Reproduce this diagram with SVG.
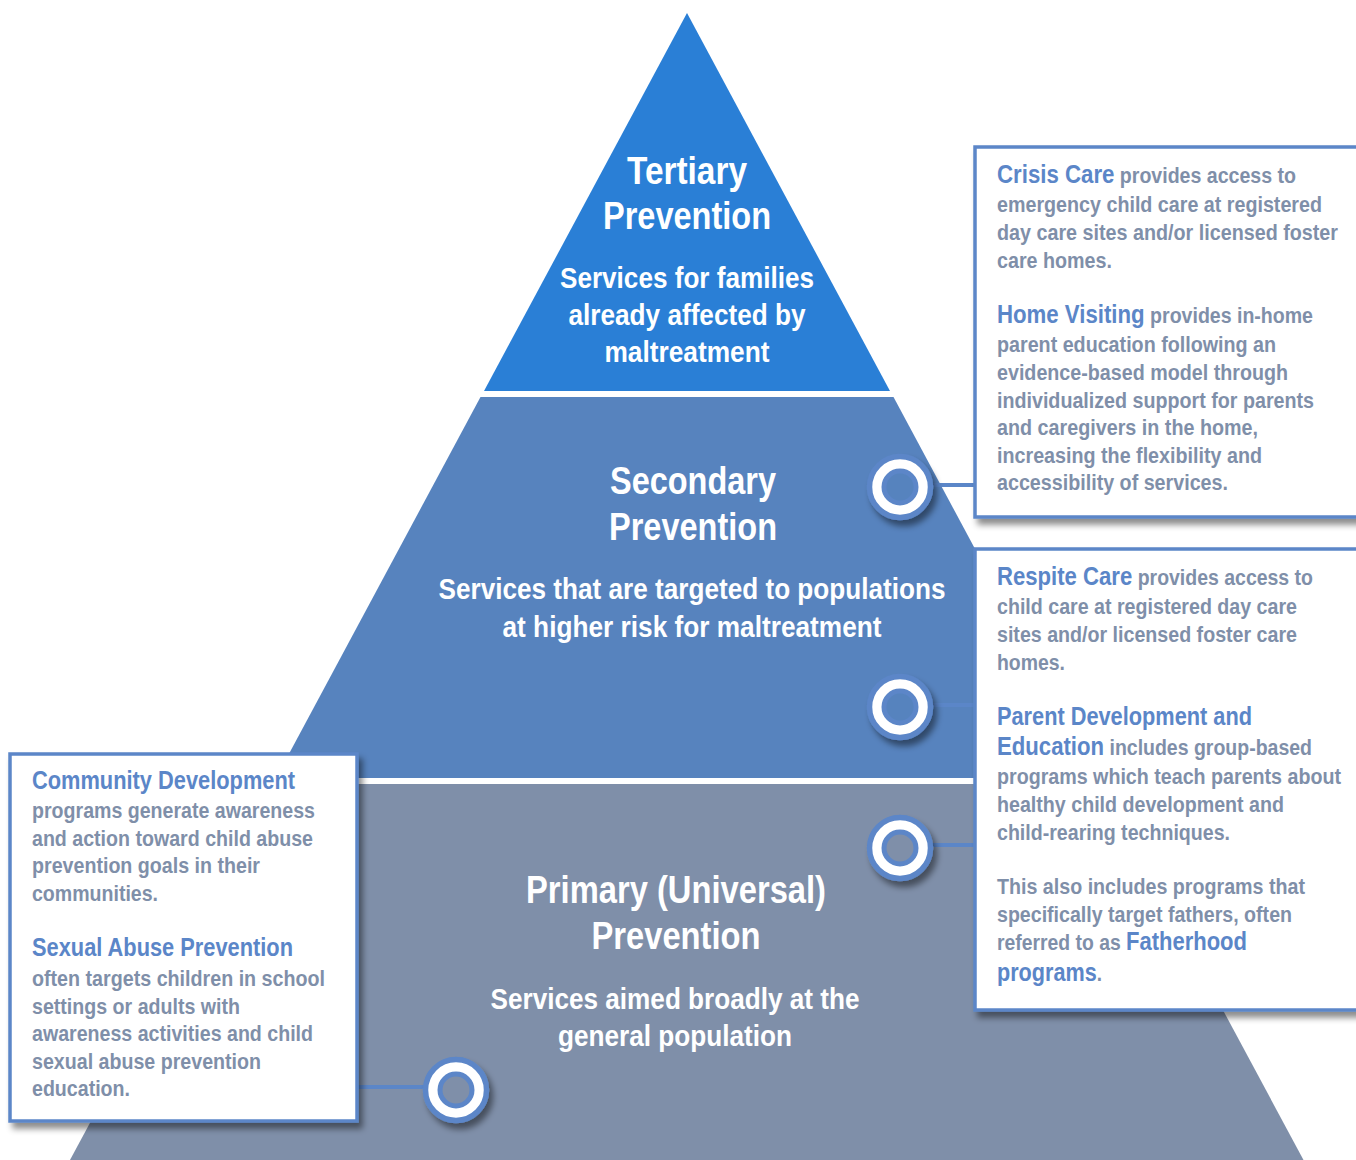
<svg xmlns="http://www.w3.org/2000/svg" width="1356" height="1160" viewBox="0 0 1356 1160">
<defs>
<filter id="sh" x="-20%" y="-20%" width="150%" height="150%">
<feDropShadow dx="4" dy="6" stdDeviation="3" flood-color="#000" flood-opacity="0.45"/>
</filter>
<filter id="csh" x="-40%" y="-40%" width="190%" height="190%">
<feDropShadow dx="4" dy="6" stdDeviation="3" flood-color="#000" flood-opacity="0.45"/>
</filter>
<style>
.t{font-family:"Liberation Sans Narrow","Liberation Sans",Arial,sans-serif;font-weight:bold;fill:#fff;text-anchor:middle}
.h1{font-size:38px}
.h2{font-size:29px}
.b{font-family:"Liberation Sans Narrow","Liberation Sans",Arial,sans-serif;font-weight:bold;fill:#7f8fa9;font-size:22px}
.k{fill:#5b86c8;font-size:25px}
.box{fill:#fff;stroke:#5b86c8;stroke-width:3.5}
.ring{fill:#fff;stroke:#5b86c8;stroke-width:5.5}
.con{stroke:#5b86c8;stroke-width:4;fill:none}
</style>
</defs>

<g id="tier-tertiary">
<polygon points="687,13 484,391 890,391" fill="#2a7fd6"/>
<text class="t h1" x="687" y="184" textLength="120" lengthAdjust="spacingAndGlyphs">Tertiary</text>
<text class="t h1" x="687" y="229" textLength="168" lengthAdjust="spacingAndGlyphs">Prevention</text>
<text class="t h2" x="687" y="288" textLength="254" lengthAdjust="spacingAndGlyphs">Services for families</text>
<text class="t h2" x="687" y="325" textLength="237" lengthAdjust="spacingAndGlyphs">already affected by</text>
<text class="t h2" x="687" y="362" textLength="165" lengthAdjust="spacingAndGlyphs">maltreatment</text>
</g>

<g id="tier-secondary">
<polygon points="480.5,397 893.5,397 1098,778 276,778" fill="#5783be"/>
<text class="t h1" x="693" y="494" textLength="166" lengthAdjust="spacingAndGlyphs">Secondary</text>
<text class="t h1" x="693" y="540" textLength="168" lengthAdjust="spacingAndGlyphs">Prevention</text>
<text class="t h2" x="692" y="599" textLength="507" lengthAdjust="spacingAndGlyphs">Services that are targeted to populations</text>
<text class="t h2" x="692" y="637" textLength="379" lengthAdjust="spacingAndGlyphs">at higher risk for maltreatment</text>
</g>

<g id="tier-primary">
<polygon points="272.5,784 1101.5,784 1303.5,1160 70,1160" fill="#7f8fa9"/>
<text class="t h1" x="676" y="903" textLength="300" lengthAdjust="spacingAndGlyphs">Primary (Universal)</text>
<text class="t h1" x="676" y="949" textLength="169" lengthAdjust="spacingAndGlyphs">Prevention</text>
<text class="t h2" x="675" y="1009" textLength="369" lengthAdjust="spacingAndGlyphs">Services aimed broadly at the</text>
<text class="t h2" x="675" y="1046" textLength="234" lengthAdjust="spacingAndGlyphs">general population</text>
</g>

<g id="connectors">
<line class="con" x1="925" y1="485" x2="977" y2="485"/>
<line class="con" x1="925" y1="705" x2="977" y2="705"/>
<line class="con" x1="925" y1="845" x2="977" y2="845"/>
<line class="con" x1="355" y1="1087" x2="430" y2="1087"/>
</g>

<g id="box-crisis-home">
<rect class="box" x="975" y="147" width="420" height="370" filter="url(#sh)"/>
<text class="b" x="997" y="183" textLength="299" lengthAdjust="spacingAndGlyphs"><tspan class="k">Crisis Care</tspan> provides access to</text>
<text class="b" x="997" y="212" textLength="325" lengthAdjust="spacingAndGlyphs">emergency child care at registered</text>
<text class="b" x="997" y="240" textLength="341" lengthAdjust="spacingAndGlyphs">day care sites and/or licensed foster</text>
<text class="b" x="997" y="268" textLength="115" lengthAdjust="spacingAndGlyphs">care homes.</text>
<text class="b" x="997" y="323" textLength="316" lengthAdjust="spacingAndGlyphs"><tspan class="k">Home Visiting</tspan> provides in-home</text>
<text class="b" x="997" y="352" textLength="279" lengthAdjust="spacingAndGlyphs">parent education following an</text>
<text class="b" x="997" y="380" textLength="291" lengthAdjust="spacingAndGlyphs">evidence-based model through</text>
<text class="b" x="997" y="408" textLength="317" lengthAdjust="spacingAndGlyphs">individualized support for parents</text>
<text class="b" x="997" y="435" textLength="261" lengthAdjust="spacingAndGlyphs">and caregivers in the home,</text>
<text class="b" x="997" y="463" textLength="265" lengthAdjust="spacingAndGlyphs">increasing the flexibility and</text>
<text class="b" x="997" y="490" textLength="231" lengthAdjust="spacingAndGlyphs">accessibility of services.</text>
</g>

<g id="box-respite-parent">
<rect class="box" x="975" y="549" width="420" height="461" filter="url(#sh)"/>
<text class="b" x="997" y="585" textLength="316" lengthAdjust="spacingAndGlyphs"><tspan class="k">Respite Care</tspan> provides access to</text>
<text class="b" x="997" y="614" textLength="300" lengthAdjust="spacingAndGlyphs">child care at registered day care</text>
<text class="b" x="997" y="642" textLength="300" lengthAdjust="spacingAndGlyphs">sites and/or licensed foster care</text>
<text class="b" x="997" y="670" textLength="68" lengthAdjust="spacingAndGlyphs">homes.</text>
<text class="b k" x="997" y="725" textLength="255" lengthAdjust="spacingAndGlyphs">Parent Development and</text>
<text class="b" x="997" y="755" textLength="315" lengthAdjust="spacingAndGlyphs"><tspan class="k">Education</tspan> includes group-based</text>
<text class="b" x="997" y="784" textLength="344" lengthAdjust="spacingAndGlyphs">programs which teach parents about</text>
<text class="b" x="997" y="812" textLength="287" lengthAdjust="spacingAndGlyphs">healthy child development and</text>
<text class="b" x="997" y="840" textLength="233" lengthAdjust="spacingAndGlyphs">child-rearing techniques.</text>
<text class="b" x="997" y="894" textLength="308" lengthAdjust="spacingAndGlyphs">This also includes programs that</text>
<text class="b" x="997" y="922" textLength="295" lengthAdjust="spacingAndGlyphs">specifically target fathers, often</text>
<text class="b" x="997" y="950" textLength="250" lengthAdjust="spacingAndGlyphs">referred to as <tspan class="k">Fatherhood</tspan></text>
<text class="b" x="997" y="981" textLength="105" lengthAdjust="spacingAndGlyphs"><tspan class="k">programs</tspan>.</text>
</g>

<g id="box-community-sexual">
<rect class="box" x="10" y="754" width="347" height="367" filter="url(#sh)"/>
<text class="b k" x="32" y="789" textLength="263" lengthAdjust="spacingAndGlyphs">Community Development</text>
<text class="b" x="32" y="818" textLength="283" lengthAdjust="spacingAndGlyphs">programs generate awareness</text>
<text class="b" x="32" y="846" textLength="281" lengthAdjust="spacingAndGlyphs">and action toward child abuse</text>
<text class="b" x="32" y="873" textLength="228" lengthAdjust="spacingAndGlyphs">prevention goals in their</text>
<text class="b" x="32" y="901" textLength="126" lengthAdjust="spacingAndGlyphs">communities.</text>
<text class="b k" x="32" y="956" textLength="261" lengthAdjust="spacingAndGlyphs">Sexual Abuse Prevention</text>
<text class="b" x="32" y="986" textLength="293" lengthAdjust="spacingAndGlyphs">often targets children in school</text>
<text class="b" x="32" y="1014" textLength="208" lengthAdjust="spacingAndGlyphs">settings or adults with</text>
<text class="b" x="32" y="1041" textLength="281" lengthAdjust="spacingAndGlyphs">awareness activities and child</text>
<text class="b" x="32" y="1069" textLength="229" lengthAdjust="spacingAndGlyphs">sexual abuse prevention</text>
<text class="b" x="32" y="1096" textLength="98" lengthAdjust="spacingAndGlyphs">education.</text>
</g>

<g id="marker-1" filter="url(#csh)">
<circle class="ring" cx="900" cy="487" r="30.5"/>
<circle cx="900" cy="487" r="16" fill="#5783be" stroke="#5b86c8" stroke-width="5"/>
</g>
<g id="marker-2" filter="url(#csh)">
<circle class="ring" cx="900" cy="707" r="30.5"/>
<circle cx="900" cy="707" r="16" fill="#5783be" stroke="#5b86c8" stroke-width="5"/>
</g>
<g id="marker-3" filter="url(#csh)">
<circle class="ring" cx="900" cy="848" r="30.5"/>
<circle cx="900" cy="848" r="16" fill="#7f8fa9" stroke="#5b86c8" stroke-width="5"/>
</g>
<g id="marker-4" filter="url(#csh)">
<circle class="ring" cx="456" cy="1090" r="30.5"/>
<circle cx="456" cy="1090" r="16" fill="#7f8fa9" stroke="#5b86c8" stroke-width="5"/>
</g>
</svg>
